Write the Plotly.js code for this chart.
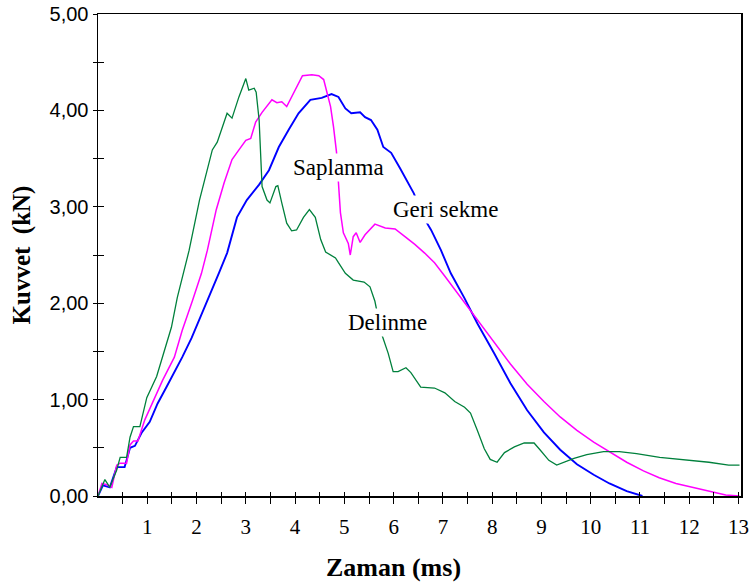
<!DOCTYPE html>
<html>
<head>
<meta charset="utf-8">
<script src="https://cdn.plot.ly/plotly-3.0.1.min.js"></script>
<style>
html,body{margin:0;padding:0;background:#fff;}
#chart{width:751px;height:587px;}
</style>
</head>
<body>
<div id="chart"></div>
<script>
// Delinme (green)
var delinmeX = [0,0.14,0.24,0.38,0.45,0.58,0.65,0.72,0.85,0.99,1.19,1.35,1.49,1.61,1.75,1.85,2.06,2.32,2.42,2.56,2.62,2.72,2.86,3.0,3.06,3.17,3.21,3.27,3.30,3.33,3.43,3.49,3.61,3.65,3.73,3.83,3.93,4.03,4.17,4.29,4.41,4.52,4.62,4.82,4.88,5.02,5.18,5.40,5.52,5.62,5.75,5.89,5.99,6.09,6.25,6.35,6.55,6.83,7.04,7.24,7.44,7.56,7.70,7.84,7.96,8.10,8.25,8.45,8.65,8.85,8.97,9.15,9.31,9.46,9.66,9.92,10.26,10.58,10.93,11.40,11.87,12.40,12.80,13.02];
var delinmeY = [0,0.17,0.09,0.27,0.40,0.40,0.61,0.72,0.72,1.02,1.24,1.51,1.75,2.06,2.34,2.55,3.07,3.59,3.67,3.88,3.97,3.92,4.14,4.33,4.21,4.23,4.19,3.90,3.49,3.21,3.07,3.04,3.21,3.22,3.04,2.83,2.75,2.76,2.89,2.97,2.89,2.66,2.53,2.47,2.42,2.31,2.24,2.22,2.17,2.02,1.69,1.48,1.29,1.29,1.33,1.28,1.13,1.12,1.07,0.98,0.92,0.86,0.68,0.49,0.38,0.35,0.45,0.51,0.55,0.55,0.48,0.37,0.32,0.35,0.39,0.43,0.46,0.46,0.44,0.40,0.38,0.35,0.32,0.32];

// Geri sekme (magenta)
var geriX = [0,0.08,0.16,0.28,0.38,0.45,0.58,0.65,0.72,0.81,0.95,1.11,1.31,1.55,1.71,1.92,2.10,2.22,2.40,2.56,2.72,2.86,3.00,3.10,3.20,3.33,3.43,3.53,3.63,3.73,3.83,3.93,4.03,4.15,4.34,4.48,4.58,4.64,4.72,4.78,4.82,4.84,4.88,4.92,4.98,5.08,5.12,5.18,5.24,5.32,5.42,5.62,5.83,6.03,6.23,6.43,6.63,6.83,7.04,7.36,7.70,8.04,8.37,8.71,9.05,9.38,9.72,10.06,10.38,10.73,11.07,11.39,11.73,12.08,12.40,12.74,13.02];
var geriY = [0,0.13,0.12,0.09,0.32,0.34,0.34,0.53,0.57,0.57,0.79,0.98,1.20,1.44,1.72,2.03,2.31,2.55,2.97,3.25,3.49,3.59,3.69,3.71,3.88,3.98,4.04,4.11,4.08,4.09,4.04,4.14,4.24,4.36,4.37,4.36,4.32,4.21,4.04,3.83,3.66,3.57,3.25,2.94,2.73,2.62,2.50,2.69,2.73,2.63,2.71,2.82,2.78,2.77,2.69,2.61,2.52,2.42,2.28,2.06,1.82,1.59,1.37,1.16,0.98,0.82,0.68,0.56,0.46,0.35,0.26,0.19,0.13,0.09,0.05,0.01,0.00];

// Saplanma (blue)
var saplanmaX = [0,0.10,0.24,0.38,0.45,0.54,0.58,0.65,0.75,0.89,1.05,1.21,1.39,1.55,1.71,1.90,2.10,2.30,2.46,2.62,2.82,3.02,3.27,3.47,3.67,3.87,4.07,4.31,4.54,4.74,4.88,5.02,5.14,5.32,5.42,5.54,5.67,5.79,5.95,6.13,6.29,6.41,6.62,6.76,6.96,7.16,7.44,7.70,8.04,8.37,8.71,9.05,9.38,9.72,10.06,10.38,10.73,10.99,11.05];
var saplanmaY = [0,0.11,0.09,0.30,0.30,0.30,0.37,0.50,0.52,0.66,0.77,0.96,1.13,1.28,1.44,1.64,1.88,2.11,2.32,2.52,2.89,3.07,3.23,3.38,3.62,3.80,3.97,4.11,4.13,4.17,4.14,4.02,3.97,3.98,3.93,3.90,3.80,3.62,3.56,3.40,3.26,3.14,2.88,2.76,2.55,2.31,2.05,1.79,1.48,1.17,0.89,0.66,0.48,0.33,0.22,0.13,0.05,0.01,0.00];

var xTickVals = [0.5,1,1.5,2,2.5,3,3.5,4,4.5,5,5.5,6,6.5,7,7.5,8,8.5,9,9.5,10,10.5,11,11.5,12,12.5,13];
var xTickText = ['','1','','2','','3','','4','','5','','6','','7','','8','','9','','10','','11','','12','','13'];
var yTickVals = [0,0.5,1,1.5,2,2.5,3,3.5,4,4.5,5];
var yTickText = ['0,00','','1,00','','2,00','','3,00','','4,00','','5,00'];

var labels = ['Saplanma','Geri sekme','Delinme'];
var labelX = [4.88,7.05,5.87];
var labelY = [3.41,2.97,1.80];

var serif = 'Liberation Serif, Times New Roman, serif';

var traces = [
  {x: saplanmaX, y: saplanmaY, mode:'lines', line:{color:'#0000FF', width:1.9}, name:'Saplanma'},
  {x: geriX, y: geriY, mode:'lines', line:{color:'#FF00FF', width:1.5}, name:'Geri sekme'},
  {x: delinmeX, y: delinmeY, xaxis:'x2', yaxis:'y2', mode:'lines', line:{color:'#00803C', width:1.3}, name:'Delinme'}
];

var annotations = labels.map(function(t,i){
  return {x: labelX[i], y: labelY[i], xref:'x', yref:'y', text:t, showarrow:false,
    font:{family:serif, size:23, color:'#000'},
    bgcolor:'#ffffff', borderpad:1};
});
annotations.push({x:0.46, y:-0.149, xref:'paper', yref:'paper', xanchor:'center', yanchor:'middle',
  text:'<b>Zaman (ms)</b>', showarrow:false, font:{family:serif, size:26, color:'#000'}});

var layout = {
  width:751, height:587,
  margin:{l:98, r:10, t:14, b:91},
  paper_bgcolor:'#fff', plot_bgcolor:'#fff',
  showlegend:false,
  xaxis:{
    range:[0,13.05], tickmode:'array', tickvals:xTickVals, ticktext:xTickText,
    ticks:'outside', ticklen:6, tickcolor:'#000', tickwidth:1,
    showgrid:false, zeroline:false, showline:true, linecolor:'#000', linewidth:1.5, mirror:true,
    tickfont:{family:serif, size:21, color:'#000'},
    ticklabelstandoff:5
  },
  xaxis2:{
    overlaying:'x', anchor:'y', side:'bottom', range:[0,13.05], tickmode:'array', tickvals:xTickVals,
    ticks:'inside', ticklen:4, tickcolor:'#000', showticklabels:false, showgrid:false, zeroline:false, showline:false
  },
  yaxis:{
    range:[0,5], tickmode:'array', tickvals:yTickVals, ticktext:yTickText,
    ticks:'outside', ticklen:4, tickcolor:'#000', tickwidth:1,
    showgrid:false, zeroline:false, showline:true, linecolor:'#000', linewidth:1.5, mirror:true,
    tickfont:{family:'Liberation Sans, Arial, sans-serif', size:20, color:'#000'},
    ticklabelstandoff:0,
    title:{text:'<b>Kuvvet  (kN)</b>', font:{family:serif, size:25, color:'#000'}, standoff:12}
  },
  yaxis2:{
    overlaying:'y', anchor:'x', side:'left', range:[0,5], tickmode:'array', tickvals:yTickVals,
    ticks:'inside', ticklen:6, tickcolor:'#000', showticklabels:false, showgrid:false, zeroline:false, showline:false
  },
  annotations: annotations
};

Plotly.newPlot('chart', traces, layout, {staticPlot:true, displayModeBar:false});
</script>
</body>
</html>
